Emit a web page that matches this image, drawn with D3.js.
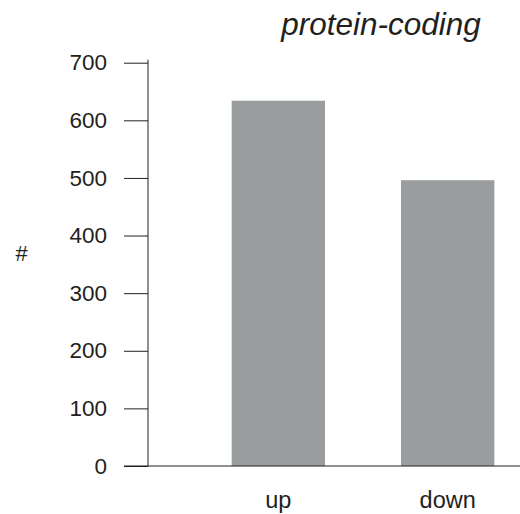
<!DOCTYPE html>
<html>
<head>
<meta charset="utf-8">
<script src="https://cdn.jsdelivr.net/npm/d3@7/dist/d3.min.js"></script>
<style>
  html, body { margin: 0; padding: 0; background: #fff; }
  svg { display: block; }
  text { font-family: "Liberation Sans", Arial, sans-serif; fill: #231f20; }
</style>
</head>
<body>
<svg id="chart" width="520" height="514"></svg>
<script>
// Number of differentially expressed protein-coding genes
const categories = ["up", "down"];
const counts = [634, 496];
const yTicks = [0, 100, 200, 300, 400, 500, 600, 700];
const title = "protein-coding";
const yLabel = "#";

const svg = d3.select("#chart");
const W = 520, H = 514;
const axisX = 148, y0 = 466, yTop = 62.7;

const y = d3.scaleLinear().domain([0, 700]).range([y0, yTop]);
const x = d3.scaleBand()
  .domain(categories)
  .range([axisX, 578])
  .paddingInner(0.449)
  .paddingOuter(0.494);

// bars
svg.append("g")
  .selectAll("rect")
  .data(categories.map((c, i) => ({ c, v: counts[i] })))
  .join("rect")
  .attr("x", d => x(d.c))
  .attr("y", d => y(d.v))
  .attr("width", x.bandwidth())
  .attr("height", d => y(0) - y(d.v))
  .attr("fill", "#9a9d9d");

// y axis
const yAxis = svg.append("g")
  .attr("transform", `translate(${axisX},0)`)
  .call(d3.axisLeft(y).tickValues(yTicks).tickSize(24).tickSizeOuter(0).tickPadding(17));
// axis spine runs a little past the top tick
yAxis.select(".domain").attr("d", `M0,${yTop - 3}V${y0}`);
yAxis.selectAll("path, line").attr("stroke", "#231f20").attr("stroke-width", 1);
yAxis.selectAll("text")
  .style("font-family", "'Liberation Sans', Arial, sans-serif")
  .style("font-size", "22.5px")
  .attr("fill", "#231f20");

// x baseline
svg.append("line")
  .attr("x1", axisX - 24).attr("x2", W)
  .attr("y1", y0).attr("y2", y0)
  .attr("stroke", "#231f20").attr("stroke-width", 1);

// category labels
svg.append("g")
  .selectAll("text")
  .data(categories)
  .join("text")
  .attr("x", d => x(d) + x.bandwidth() / 2)
  .attr("y", 508)
  .attr("text-anchor", "middle")
  .style("font-size", "23.5px")
  .text(d => d);

// y label
svg.append("text")
  .attr("x", 21.5)
  .attr("y", 261)
  .attr("text-anchor", "middle")
  .style("font-size", "22px")
  .text(yLabel);

// title
svg.append("text")
  .attr("x", 381)
  .attr("y", 35)
  .attr("text-anchor", "middle")
  .style("font-size", "31.5px")
  .style("font-style", "italic")
  .text(title);
</script>
</body>
</html>
